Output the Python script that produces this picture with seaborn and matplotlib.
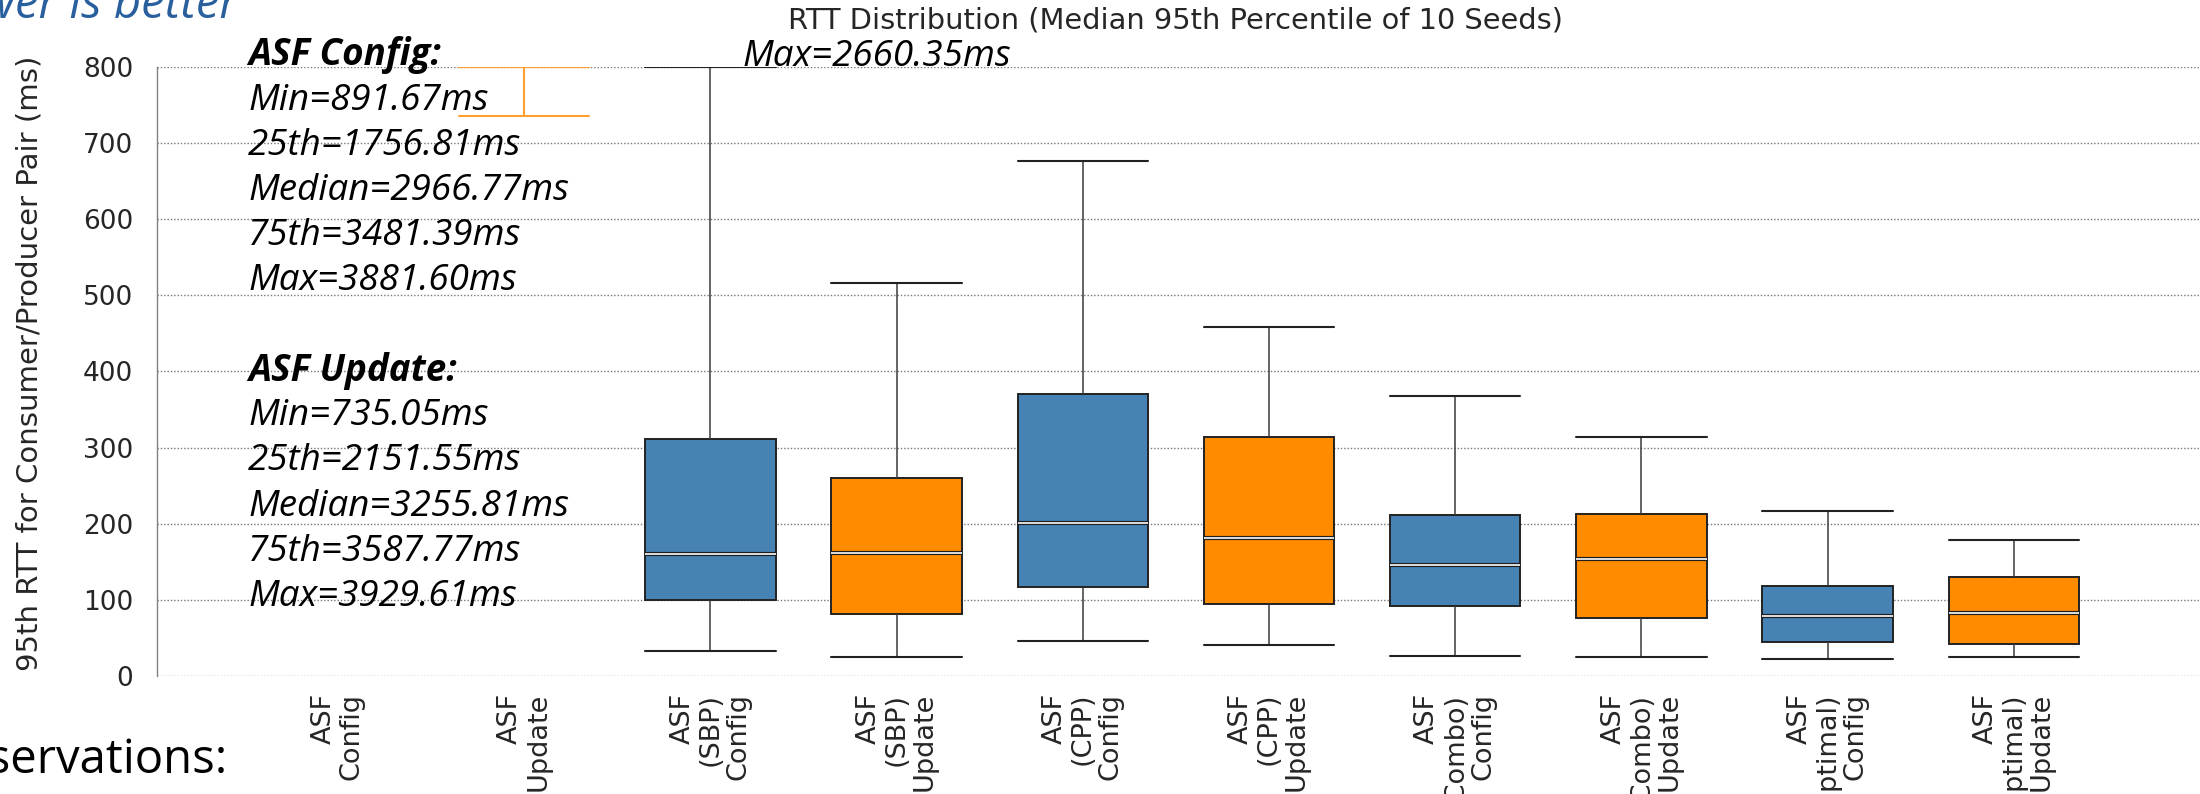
import numpy as np
import pandas as pd
import matplotlib
matplotlib.use("Agg")
import matplotlib.pyplot as plt
import matplotlib.patheffects as pe
import seaborn as sns

# Per-variant summary of the median 95th-percentile RTT over 10 seeds (ms)
categories = [
    "ASF\nConfig", "ASF\nUpdate",
    "ASF\n(SBP)\nConfig", "ASF\n(SBP)\nUpdate",
    "ASF\n(CPP)\nConfig", "ASF\n(CPP)\nUpdate",
    "ASF\n(Combo)\nConfig", "ASF\n(Combo)\nUpdate",
    "ASF\n(Optimal)\nConfig", "ASF\n(Optimal)\nUpdate",
]
kinds = ["Config", "Update"] * 5
rtt_min = [891.67, 735.05, 32.4, 25.4, 45.5, 40.7, 26.7, 24.5, 21.9, 24.5]
rtt_q1 = [1756.81, 2151.55, 99.8, 81.0, 117.3, 94.1, 91.5, 76.1, 44.2, 41.6]
rtt_median = [2966.77, 3255.81, 160.6, 161.9, 200.9, 181.6, 145.3, 153.6, 79.2, 83.1]
rtt_q3 = [3481.39, 3587.77, 310.8, 260.4, 370.2, 314.2, 211.8, 213.1, 118.2, 129.6]
rtt_max = [3881.60, 3929.61, 2660.35, 515.5, 676.1, 457.8, 368.0, 313.4, 216.6, 178.9]
y_ticks = [0, 100, 200, 300, 400, 500, 600, 700, 800]
Y_MAX = 800

title = "RTT Distribution (Median 95th Percentile of 10 Seeds)"
y_label = "95th RTT for Consumer/Producer Pair (ms)"
palette = {"Config": "#4682b4", "Update": "#ff8c00"}
baseline_color = "#ffa030"

# Long-form table: five summary points per variant (min, q1, median, q3, max),
# clipped to the visible range; variants entirely above it keep an empty slot.
rows = []
for cat, kind, *vals in zip(categories, kinds, rtt_min, rtt_q1, rtt_median, rtt_q3, rtt_max):
    if min(vals) >= Y_MAX:
        continue
    for v in vals:
        rows.append({"variant": cat, "kind": kind, "rtt": min(v, Y_MAX)})
df = pd.DataFrame(rows)

sns.set_style("white")
plt.rcParams["font.family"] = ["DejaVu Sans"]

W, H = 2200, 794
fig = plt.figure(figsize=(W / 100, H / 100), dpi=100)
ax_left, ax_right, ax_top, ax_bottom = 157, 2200, 66.7, 676
ax = fig.add_axes([ax_left / W, 1 - ax_bottom / H, (ax_right - ax_left) / W, (ax_bottom - ax_top) / H])

median_fx = [pe.Stroke(linewidth=3.0, foreground="#1e1e1e"), pe.Normal()]
sns.boxplot(
    data=df, x="variant", y="rtt", hue="kind",
    order=categories, hue_order=["Config", "Update"], palette=palette,
    saturation=1, dodge=False, width=0.7, whis=(0, 100), fliersize=0,
    linecolor="#222222", linewidth=1.4, legend=False,
    capwidths=0.7,
    medianprops=dict(color="white", linewidth=1.2, path_effects=median_fx),
    whiskerprops=dict(color="#3a3a3a", linewidth=1.1),
    capprops=dict(color="#222222", linewidth=1.5),
    ax=ax,
)

# The plain "ASF Update" run only reaches the chart with its lower whisker
update_idx = categories.index("ASF\nUpdate")
for line in ax.lines:
    xd = np.asarray(line.get_xdata(), dtype=float)
    if xd.size and abs(xd.mean() - update_idx) < 0.5:
        line.set_color(baseline_color)
        line.set_path_effects([])
        line.set_linewidth(1.5)
for patch in ax.patches:
    verts = patch.get_path().vertices
    if verts.size and abs(verts[:, 0].mean() - update_idx) < 0.5:
        patch.set_edgecolor(baseline_color)

ax.set_xlim(-0.972, 10.0)
ax.set_ylim(0, Y_MAX)
ax.set_yticks(y_ticks)
ax.set_xlabel("")
ax.set_ylabel(y_label, fontsize=21)
ax.yaxis.label.set_va("center")
ax.yaxis.set_label_coords((30 - ax_left) / (ax_right - ax_left), (ax_bottom - 363) / (ax_bottom - ax_top))

ax.set_xticks(range(len(categories)))
ax.set_xticklabels(categories, rotation=90, ha="center", va="top",
                   multialignment="right", linespacing=1.1, fontsize=19.5)
ax.tick_params(axis="x", length=0, pad=12)
ax.tick_params(axis="y", direction="in", length=5, width=1, color="#808080",
               labelsize=19, pad=17)

ax.grid(axis="y", linestyle=(0, (1, 1.4)), color="#777777", linewidth=1.0)
ax.grid(axis="x", visible=False)
ax.set_axisbelow(True)
for side in ("top", "right", "bottom"):
    ax.spines[side].set_visible(False)
ax.spines["left"].set_color("#808080")
ax.spines["left"].set_linewidth(1.0)

ax.set_title(title, fontsize=20.8, pad=0,
             x=(1176 - ax_left) / (ax_right - ax_left),
             y=(ax_bottom - 20) / (ax_bottom - ax_top), va="center")

# Summary notes for the two variants whose boxes sit above the axis range
note_font = ["Open Sans", "Noto Sans", "DejaVu Sans"]
def fy(px):
    return 1 - px / H

notes = []
for name, i in (("ASF Config", 0), ("ASF Update", 1)):
    notes.append((f"{name}:", "bold"))
    notes.append((f"Min={rtt_min[i]:.2f}ms", "normal"))
    notes.append((f"25th={rtt_q1[i]:.2f}ms", "normal"))
    notes.append((f"Median={rtt_median[i]:.2f}ms", "normal"))
    notes.append((f"75th={rtt_q3[i]:.2f}ms", "normal"))
    notes.append((f"Max={rtt_max[i]:.2f}ms", "normal"))
    notes.append((None, None))
pitch = 45.1
for k, (txt, weight) in enumerate(notes):
    if txt is None:
        continue
    fig.text(248 / W, fy(55.5 + k * pitch), txt, family=note_font, style="italic",
             weight=weight, fontsize=26.5, ha="left", va="center", color="black")

sbp_idx = categories.index("ASF\n(SBP)\nConfig")
fig.text(742 / W, fy(56.5), f"Max={rtt_max[sbp_idx]:.2f}ms", family=note_font,
         style="italic", fontsize=26.5, ha="left", va="center", color="black")

# Surrounding slide text
fig.text(238 / W, fy(18), "Lower is better", family=note_font, style="italic",
         fontsize=34, ha="right", va="baseline", color="#2a5f9e")
fig.text(227 / W, fy(773), "Observations:", family=note_font,
         fontsize=34, ha="right", va="baseline", color="black")

fig.savefig("out.png", dpi=100)
